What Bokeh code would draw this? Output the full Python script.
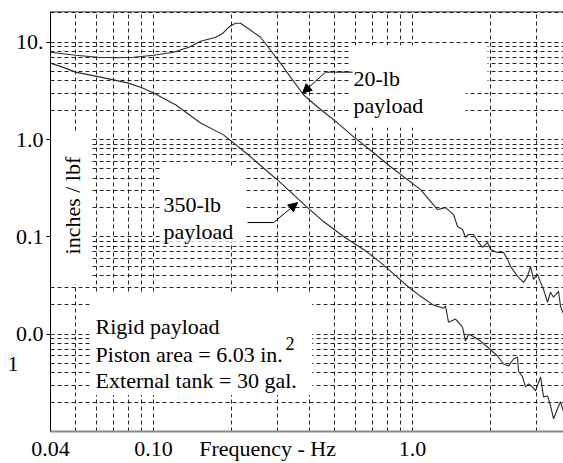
import math
from bokeh.plotting import figure
from bokeh.models import (Range1d, FixedTicker, Label, BoxAnnotation, Arrow,
                          NormalHead, Span, LogAxis)
from bokeh.embed import file_html
from bokeh.resources import INLINE

# ---------------- data ----------------
freq_20lb = [0.0400, 0.0500, 0.0608, 0.0714, 0.0837, 0.100, 0.1195, 0.137, 0.152,
             0.174, 0.185, 0.1948, 0.2073, 0.2167, 0.237, 0.259, 0.283, 0.309,
             0.338, 0.380, 0.430, 0.470, 0.513, 0.592, 0.707, 0.823, 1.074,
             1.249, 1.341, 1.440, 1.492, 1.560, 1.602, 1.645, 1.720, 1.798,
             1.864, 1.948, 2.001, 2.129, 2.246, 2.328, 2.390, 2.544, 2.683,
             2.780, 2.855, 2.933, 3.039, 3.121, 3.205, 3.321, 3.411, 3.504,
             3.662, 3.727, 3.828]
resp_20lb = [7.90, 7.36, 7.02, 6.94, 7.02, 7.36, 7.90, 8.89, 10.24, 11.25, 12.36,
             14.24, 15.65, 15.65, 13.27, 11.25, 8.28, 6.10, 4.38, 2.868, 2.161,
             1.789, 1.482, 1.066, 0.7311, 0.5255, 0.3056, 0.1908, 0.1999, 0.1696,
             0.1278, 0.1190, 0.0986, 0.1058, 0.1058, 0.0876, 0.0779, 0.0876,
             0.0743, 0.0692, 0.0692, 0.0587, 0.0498, 0.0393, 0.0341, 0.0393,
             0.0498, 0.0366, 0.0412, 0.0341, 0.0289, 0.0213, 0.0270, 0.0240,
             0.0276, 0.0194, 0.0161]

freq_350lb = [0.0400, 0.0445, 0.0500, 0.0624, 0.0801, 0.0907, 0.100, 0.122, 0.152,
              0.1863, 0.237, 0.2707, 0.309, 0.3932, 0.4532, 0.5415, 0.6469, 0.752,
              0.875, 0.957, 1.074, 1.205, 1.318, 1.341, 1.377, 1.466, 1.560, 1.602,
              1.645, 1.705, 1.830, 1.948, 2.129, 2.246, 2.349, 2.455, 2.544, 2.566,
              2.659, 2.731, 2.805, 2.907, 2.985, 3.121, 3.205, 3.321, 3.411, 3.504,
              3.629, 3.727, 3.828]
resp_350lb = [6.10, 5.55, 4.93, 4.38, 3.80, 3.38, 3.006, 2.265, 1.482, 1.117,
              0.6651, 0.4897, 0.3604, 0.1999, 0.1437, 0.1009, 0.0743, 0.0547,
              0.0384, 0.0311, 0.0245, 0.0199, 0.0185, 0.0194, 0.0133, 0.0143,
              0.0118, 0.00850, 0.0100, 0.00956, 0.00850, 0.00738, 0.00597,
              0.00494, 0.00472, 0.00556, 0.00583, 0.00419, 0.00364, 0.00287,
              0.00308, 0.00287, 0.00262, 0.00364, 0.00227, 0.00232, 0.00184,
              0.00135, 0.00171, 0.00202, 0.00159]

# x axis: tick labels plus the axis title that sits on the same line
x_tick_values = [0.04, 0.10, 0.2756, 1.0]
x_tick_labels = ["0.04", "0.10", "Frequency - Hz", "1.0"]
# y axis: "0.01" is wrapped onto two lines in the reference ("0.0" / "1")
y_tick_values = [10, 1, 0.1, 0.01]
y_tick_labels = ["10.", "1.0", "0.1", "0.0"]
y_wrap_value = [0.00494]
y_wrap_label = ["1"]
y_axis_title = "inches / lbf"
notes = ["Rigid payload", "Piston area = 6.03 in.", "External tank = 30 gal."]

FONT = "Liberation Serif"
FS = "22px"

p = figure(width=563, height=463, x_axis_type="log", y_axis_type="log",
           x_range=Range1d(0.04, 3.828), y_range=Range1d(0.001, 20.7),
           output_backend="svg", toolbar_location=None,
           min_border_left=50, min_border_right=0, min_border_top=11,
           min_border_bottom=30)
p.background_fill_color = "white"
p.border_fill_color = "white"
p.outline_line_color = None

# grid: full log grid (1..9 x decade), dashed
grid_x = [k * 10.0 ** n for n in range(-2, 1) for k in range(1, 10)]
grid_y = [k * 10.0 ** n for n in range(-3, 2) for k in range(1, 10)]
p.xgrid.ticker = FixedTicker(ticks=grid_x)
p.ygrid.ticker = FixedTicker(ticks=grid_y)
for g in (p.xgrid, p.ygrid):
    g.grid_line_color = "black"
    g.grid_line_alpha = 0.85
    g.grid_line_dash = "4 3"
    g.grid_line_width = 1

# x axis
p.xaxis.ticker = FixedTicker(ticks=x_tick_values)
p.xaxis.major_label_overrides = {v: s for v, s in zip(x_tick_values, x_tick_labels)}
p.xaxis.axis_line_color = "#8a8a8a"
p.xaxis.axis_line_width = 2
p.xaxis.major_tick_line_color = None
p.xaxis.minor_tick_line_color = None
p.xaxis.major_tick_out = 0
p.xaxis.major_tick_in = 0
p.xaxis.major_label_standoff = 4
p.xaxis.major_label_text_font = FONT
p.xaxis.major_label_text_font_size = FS
p.xaxis.major_label_text_color = "black"

# y axis
p.yaxis.ticker = FixedTicker(ticks=y_tick_values)
p.yaxis.major_label_overrides = {v: s for v, s in zip(y_tick_values, y_tick_labels)}
p.yaxis.axis_line_color = "black"
p.yaxis.major_tick_out = 4
p.yaxis.major_tick_in = 0
p.yaxis.minor_tick_line_color = None
p.yaxis.major_label_standoff = 3
p.yaxis.major_label_text_font = FONT
p.yaxis.major_label_text_font_size = FS
p.yaxis.major_label_text_color = "black"

# second (outer) left axis carrying the wrapped "1" of 0.01
wrap_axis = LogAxis(ticker=FixedTicker(ticks=y_wrap_value),
                    major_label_overrides={v: s for v, s in zip(y_wrap_value, y_wrap_label)},
                    axis_line_color=None, major_tick_line_color=None,
                    minor_tick_line_color=None, major_tick_out=0, major_tick_in=0,
                    major_label_standoff=-6, major_label_text_font=FONT,
                    major_label_text_font_size=FS, major_label_text_color="black")
p.add_layout(wrap_axis, "left")

# top border
p.add_layout(Span(location=20.7, dimension="width", line_color="black", line_width=1.5))

# white label backgrounds (cover the grid)
for l, r, b, t in [(0.04, 0.0571, 0.0326, 1.2),       # y title
                   (0.1064, 0.2266, 0.089, 0.51),      # 350-lb label
                   (0.576, 1.948, 3.63, 9.32),         # 20-lb label (upper)
                   (0.576, 1.602, 1.32, 3.63),         # 20-lb label (lower)
                   (0.0571, 0.41, 0.00237, 0.0257)]:   # notes
    p.add_layout(BoxAnnotation(left=l, right=r, bottom=b, top=t, fill_color="white",
                               fill_alpha=1.0, line_color=None, level="underlay"))

# curves
p.line(freq_20lb, resp_20lb, line_color="#2a2a2a", line_width=1.1)
p.line(freq_350lb, resp_350lb, line_color="#2a2a2a", line_width=1.1)


def lab(text, x, y, align="left", baseline="alphabetic", size=FS, angle=0.0):
    p.add_layout(Label(x=x, y=y, text=text, text_font=FONT, text_font_size=size,
                       text_color="black", text_align=align, text_baseline=baseline,
                       angle=angle))


# y title inside the plot
lab(y_axis_title, 0.0487, 0.2096, align="center", baseline="middle", angle=math.pi / 2)

# curve labels
lab("20-lb", 0.5918, 4.28)
lab("payload", 0.5918, 2.265)
lab("350-lb", 0.1093, 0.2147)
lab("payload", 0.1093, 0.1136)

# notes
lab(notes[0], 0.05972, 0.01211)
lab(notes[1], 0.05972, 0.006254)
lab("2", 0.3233, 0.00811, size="18px")
lab(notes[2], 0.05972, 0.00331)

# arrows
head = dict(size=9, fill_color="black", line_color="black")
p.add_layout(Arrow(end=None, x_start=0.5866, y_start=4.93, x_end=0.4614, y_end=4.93,
                   line_color="black", line_width=1))
p.add_layout(Arrow(end=NormalHead(**head), x_start=0.4614, y_start=4.93,
                   x_end=0.3761, y_end=3.006, line_color="black", line_width=1))
p.add_layout(Arrow(end=None, x_start=0.2307, y_start=0.1404, x_end=0.2906, y_end=0.1404,
                   line_color="black", line_width=1))
p.add_layout(Arrow(end=NormalHead(**head), x_start=0.2906, y_start=0.1404,
                   x_end=0.3597, y_end=0.2249, line_color="black", line_width=1))

open("out.html", "w").write(file_html(p, INLINE))
